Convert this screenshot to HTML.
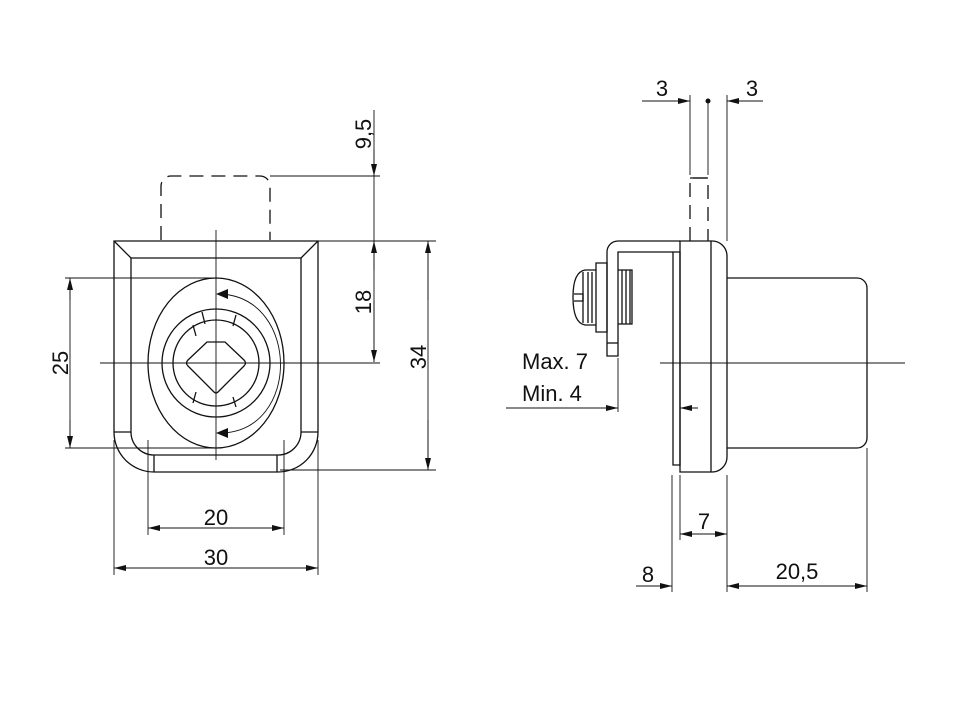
<!DOCTYPE html>
<html><head><style>body{margin:0;background:#fff}svg{display:block}text{font-family:"Liberation Sans",sans-serif;font-size:22px;fill:#111}</style></head><body>
<svg width="960" height="716" viewBox="0 0 960 716" xmlns="http://www.w3.org/2000/svg">
<defs>
<marker id="a" viewBox="0 0 12 6" refX="12" refY="3" markerWidth="12" markerHeight="6" orient="auto" markerUnits="userSpaceOnUse"><path d="M0,0L12,3L0,6z" fill="#111"/></marker>
</defs>
<g fill="none" stroke="#111" stroke-width="1.3">
<path d="M161,240V186a10,10 0 0 1 10,-10H260a10,10 0 0 1 10,10V240" stroke-dasharray="14,8"/>
<path d="M114,241H318V432a40,40 0 0 1 -40,40H154a40,40 0 0 1 -40,-40Z"/>
<path d="M131,258H301V432a23,23 0 0 1 -23,23H154a23,23 0 0 1 -23,-23Z"/>
<path d="M114,241L131,258M318,241L301,258M114,432H131M318,432H301"/>
<path d="M154,455V472M277,455V472"/>
<ellipse cx="216" cy="363" rx="68" ry="85"/>
<circle cx="216" cy="363" r="54"/>
<circle cx="216" cy="363" r="43"/>
<path d="M193,325l3,11M202,312l3,12M236,315l-3,11M193,403l3,-11M236,407l-3,-10"/>
<path d="M207,342H225L244,360Q247,363 244,366L218,392Q216,394 214,392L188,366Q185,363 188,360Z"/>
<path d="M222,294C300,300 300,430 222,433" stroke-width="0.9"/>
</g>
<path d="M216,294l12,-5v10z M216,433l12,-5v10z" fill="#111"/>
<g fill="none" stroke="#111" stroke-width="0.9">
<path d="M216,230V460M100,363H380"/>
<path d="M270,176H380M318,241H436M280,470H436M65,278H216M65,448H216"/>
<path d="M148,440V535M284,440V535M114,440V575M318,440V575"/>
<path d="M374,110V362"/>
<path d="M70,280V446M428,243V468M150,528H282M116,568H316"/>
</g>
<g stroke="#111" stroke-width="0.9" fill="none">
<path d="M374,150V176" marker-end="url(#a)"/>
<path d="M374,270V241" marker-end="url(#a)"/>
<path d="M374,300V362" marker-end="url(#a)"/>
<path d="M70,300V278" marker-end="url(#a)"/><path d="M70,420V448" marker-end="url(#a)"/>
<path d="M428,300V241" marker-end="url(#a)"/><path d="M428,420V470" marker-end="url(#a)"/>
<path d="M190,528H148" marker-end="url(#a)"/><path d="M240,528H284" marker-end="url(#a)"/>
<path d="M170,568H114" marker-end="url(#a)"/><path d="M260,568H318" marker-end="url(#a)"/>
</g>
<text x="216" y="525" text-anchor="middle">20</text>
<text x="216" y="565" text-anchor="middle">30</text>
<text transform="translate(68,363) rotate(-90)" text-anchor="middle">25</text>
<text transform="translate(371,302) rotate(-90)" text-anchor="middle">18</text>
<text transform="translate(426,357) rotate(-90)" text-anchor="middle">34</text>
<text transform="translate(371,134) rotate(-90)" text-anchor="middle">9,5</text>
<g fill="none" stroke="#111" stroke-width="1.3">
<path d="M690,241V178H708V241" stroke-dasharray="14,8"/>
<path d="M690,178H708"/>
<path d="M680,241H712a15,15 0 0 1 15,15V457a15,15 0 0 1 -15,15H680Z"/>
<path d="M711,241V472"/>
<path d="M673,252H680V465H673Z"/>
<path d="M680,241H618a11,11 0 0 0 -11,11V356H618V252H673"/>
<path d="M607,343H618"/>
<path d="M596,263H607V332H596Z"/>
<path d="M596,270H585Q573,272 573,297Q573,323 585,325H596"/>
<path d="M574,294H583V301H574"/>
<path d="M583,272V323M588,272V323M592,272V323"/>
<path d="M618,270H632V324H618M622,270V324M626,270V324M630,270V324"/>
<path d="M727,278H857a10,10 0 0 1 10,10V438a10,10 0 0 1 -10,10H727"/>
</g>
<g fill="none" stroke="#111" stroke-width="0.9">
<path d="M690,95V175M708,101V175M727,95V241"/>
<path d="M660,363H905"/>
<path d="M618,358V412M672,475V592M680,475V540M727,475V592M867,448V592"/>
<path d="M642,101H690M727,101H763"/>
<path d="M506,408H618M680,408H698"/>
<path d="M680,534H727"/>
<path d="M636,586H672M727,586H867"/>
</g>
<g stroke="#111" stroke-width="0.9" fill="none">
<path d="M670,101H690" marker-end="url(#a)"/><path d="M747,101H727" marker-end="url(#a)"/>
<path d="M600,408H618" marker-end="url(#a)"/><path d="M698,408H680" marker-end="url(#a)"/>
<path d="M700,534H680" marker-end="url(#a)"/><path d="M707,534H727" marker-end="url(#a)"/>
<path d="M655,586H672" marker-end="url(#a)"/>
<path d="M780,586H727" marker-end="url(#a)"/><path d="M820,586H867" marker-end="url(#a)"/>
</g>
<circle cx="708" cy="101" r="2.5" fill="#111"/>
<text x="662" y="96" text-anchor="middle">3</text>
<text x="752" y="96" text-anchor="middle">3</text>
<text x="522" y="369">Max. 7</text>
<text x="522" y="401">Min. 4</text>
<text x="704" y="529" text-anchor="middle">7</text>
<text x="648" y="582" text-anchor="middle">8</text>
<text x="797" y="579" text-anchor="middle">20,5</text>
</svg>
</body></html>
